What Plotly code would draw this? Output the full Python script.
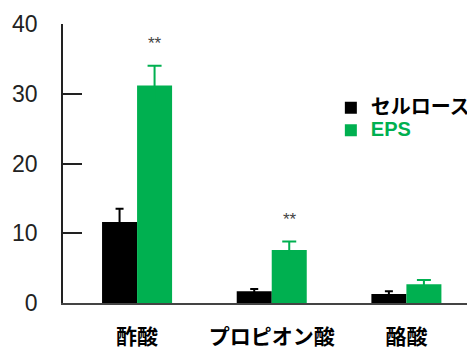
import plotly.graph_objects as go

categories = ["酢酸", "プロピオン酸", "酪酸"]
cellulose = [11.6, 1.7, 1.3]
cellulose_err = [1.9, 0.3, 0.4]
eps = [31.2, 7.6, 2.7]
eps_err = [2.8, 1.2, 0.6]
sig_labels = ["**", "**", ""]
yticks = [0, 10, 20, 30, 40]

GREEN = "#00b050"

fig = go.Figure()
fig.add_trace(go.Bar(
    x=categories, y=cellulose,
    name="<span style='font-size:20px'>セルロース</span>",
    marker=dict(color="black", line=dict(width=0)),
    error_y=dict(type="data", array=cellulose_err, symmetric=True,
                 color="black", thickness=2, width=4),
))
fig.add_trace(go.Bar(
    x=categories, y=eps,
    name=f"<span style='font-size:20px;color:{GREEN}'>EPS</span>",
    marker=dict(color=GREEN, line=dict(width=0)),
    error_y=dict(type="data", array=eps_err, symmetric=True,
                 color=GREEN, thickness=2, width=7),
))

for c, v, e, s in zip(categories, eps, eps_err, sig_labels):
    if s:
        fig.add_annotation(x=c, y=v + e + 3.2, text=s, showarrow=False,
                           xshift=18, font=dict(size=17, color="#444",
                                                family="Liberation Sans"))

fig.update_layout(
    width=467, height=348,
    margin=dict(l=63, r=0, t=24, b=45, autoexpand=False),
    paper_bgcolor="white", plot_bgcolor="white",
    barmode="group", bargap=0.48, bargroupgap=0,
    showlegend=True,
    legend=dict(x=0.663, y=0.758, xanchor="left", yanchor="top",
                bgcolor="rgba(0,0,0,0)", borderwidth=0,
                font=dict(family="Liberation Sans, Noto Sans CJK JP", size=15,
                          color="black", weight="bold"),
                itemwidth=30, tracegroupgap=0),
    xaxis=dict(range=[-0.55, 2.45], showline=True, linecolor="#444",
               linewidth=1.5, ticks="", showgrid=False, zeroline=False,
               automargin=False,
               tickfont=dict(family="Noto Sans CJK JP", size=21,
                             color="black", weight="bold"),
               ticklabelstandoff=14),
    yaxis=dict(range=[0, 40], tickvals=yticks, showline=True,
               linecolor="#222", linewidth=1.5, ticks="inside", ticklen=19,
               tickwidth=1.5, tickcolor="#222", showgrid=False, zeroline=False,
               automargin=False,
               tickfont=dict(family="Liberation Sans", size=23, color="#222"),
               ticklabelstandoff=19),
)

fig.write_html("out.html")
